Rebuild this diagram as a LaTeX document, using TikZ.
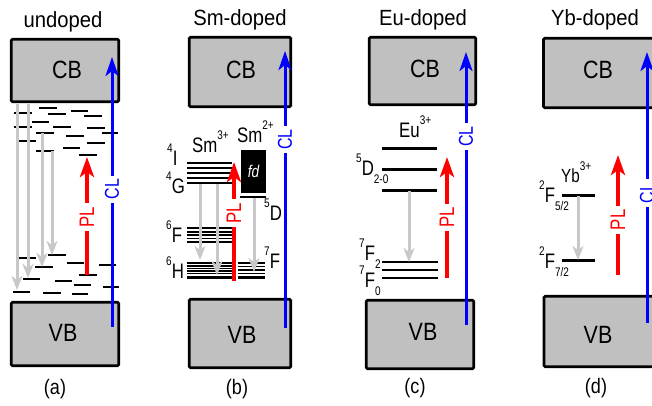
\documentclass[tikz,border=0pt]{standalone}
\usepackage{fontspec}
\setmainfont[FakeStretch=0.92]{Liberation Sans}
\newfontfamily\narrowf[FakeStretch=0.8]{Liberation Sans}
\newfontfamily\midf[FakeStretch=0.86]{Liberation Sans}
\usetikzlibrary{arrows.meta}
\definecolor{bandgray}{RGB}{192,192,192}
\definecolor{arrgray}{RGB}{200,200,200}
\newcommand\sps[1]{\raisebox{0.58em}{\fontsize{12.5}{12.5}\selectfont #1}}
\newcommand\sbs[1]{\raisebox{-0.42em}{\fontsize{12.5}{12.5}\selectfont #1}}
\newcommand\fs[1]{\fontsize{#1}{#1}\selectfont}
\begin{document}
\begin{tikzpicture}[x=1pt,y=-1pt,
  band/.style={draw=black,line width=2.6pt,fill=bandgray,rounded corners=1.2pt,inner sep=0pt},
  bandtxt/.style={font=\midf\fs{25},inner sep=0pt},
  lvl/.style={line width=2.7pt},
  tlvl/.style={line width=1.7pt},
  grarrow/.style={draw=arrgray,line width=3pt,-{Stealth[length=14pt,width=11pt,inset=4pt]}},
  plarrow/.style={draw=red,line width=3.8pt,-{Stealth[length=20pt,width=14pt,inset=5pt]}},
  clarrow/.style={draw=blue,line width=3pt,-{Stealth[length=19pt,width=13pt,inset=5pt]}},
  pllab/.style={fill=white,text=red,rotate=90,inner xsep=3.5pt,inner ysep=1pt,font=\narrowf\fs{21}},
  cllab/.style={fill=white,text=blue,rotate=90,inner xsep=3.5pt,inner ysep=1pt,font=\narrowf\fs{20}},
  ttl/.style={font=\fs{22},inner sep=0pt},
  sub/.style={font=\midf\fs{21},inner sep=0pt},
  lab/.style={font=\narrowf\fs{21},inner sep=0pt,anchor=base west}]
\useasboundingbox (0,0) rectangle (652,405);
\clip (0,0) rectangle (652,405);

% ================= (a) undoped =================
\node[ttl] (a-t) at (63,22) {undoped};
\node[band,minimum width=107.5,minimum height=62.5] (a-cb) at (65,70.5) {};
\node[band,minimum width=107.5,minimum height=63.5] (a-vb) at (65,334) {};
\node[bandtxt] (a-cbt) at (67,70) {CB};
\node[bandtxt] (a-vbt) at (63,333) {VB};
\node[sub] (a-s) at (55,389) {(a)};
\foreach \xa/\xb/\yy in {39/57/108,14/32/113,48/66/114,71/88/111,84/102/116,32/49/122,14/32/127,53/71/127,87/105/128,36/54/133,102/118/133,66/84/136,18/36/141,87/105/143,63/80/148,36/54/151,79/97/155,
  48/66/255,19/36/258,67/84/263,99/116/265,35/53/267,79/97/275,23/40/279,55/72/281,74/91/285,103/119/287,13/30/292,43/61/293,72/88/294}
  \draw[lvl] (\xa,\yy) -- (\xb,\yy);
\coordinate (a-g1a) at (17,104); \coordinate (a-g1b) at (17,290);
\coordinate (a-g2a) at (28,104); \coordinate (a-g2b) at (28,278);
\coordinate (a-g3a) at (42,133); \coordinate (a-g3b) at (42,267);
\coordinate (a-g4a) at (52,151); \coordinate (a-g4b) at (52,255);
\draw[grarrow] (a-g1a) -- (a-g1b);
\draw[grarrow] (a-g2a) -- (a-g2b);
\draw[grarrow] (a-g3a) -- (a-g3b);
\draw[grarrow] (a-g4a) -- (a-g4b);
\coordinate (a-p0) at (87,275); \coordinate (a-p1) at (87,157);
\draw[plarrow] (a-p0) -- node[pllab,pos=0.49] (a-pl) {PL} (a-p1);
\coordinate (a-c0) at (112,327); \coordinate (a-c1) at (112,57);
\draw[clarrow] (a-c0) -- node[cllab,pos=0.51] (a-cl) {CL} (a-c1);

% ================= (b) Sm-doped =================
\node[ttl] (b-t) at (240,20) {Sm-doped};
\node[band,minimum width=101.5,minimum height=69.5] (b-cb) at (240,72) {};
\node[band,minimum width=101.5,minimum height=68.5] (b-vb) at (240,333.5) {};
\node[bandtxt] (b-cbt) at (241,70) {CB};
\node[bandtxt] (b-vbt) at (242,335) {VB};
\node[sub] (b-s) at (237,389) {(b)};
\foreach \yy in {168,173,178} \draw[tlvl] (187,\yy) -- (232,\yy);
\foreach \yy in {163,183} \draw[lvl] (187,\yy) -- (232,\yy);
\foreach \yy in {228,232,235,238.5,242} \draw[tlvl] (187,\yy) -- (232,\yy);
\foreach \yy in {263,266,268.5,271,273.5} \draw[tlvl] (187,\yy) -- (232,\yy);
\draw[lvl] (187,277.5) -- (232,277.5);
\foreach \yy in {263,266.5,270,273.5} \draw[tlvl] (238,\yy) -- (265,\yy);
\draw[lvl] (238,277.5) -- (265,277.5);
\node[fill=black,minimum width=25,minimum height=43,inner sep=0pt,text=white,font=\narrowf\fs{17}\itshape] (b-fd) at (253.5,171.5) {fd};
\draw[lvl] (240,197) -- (266,197);
\node[lab] (b-sm3) at (192,152) {Sm\sps{3+}};
\node[lab] (b-sm2) at (237,142) {Sm\sps{2+}};
\node[lab] (b-4i) at (167,165) {\sps{4}I};
\node[lab] (b-4g) at (166,193) {\sps{4}G};
\node[lab] (b-6f) at (166,242) {\sps{6}F};
\node[lab] (b-6h) at (166,278) {\sps{6}H};
\node[lab] (b-5d) at (264,220) {\sps{5}D};
\node[lab] (b-7f) at (264,268) {\sps{7}F};
\coordinate (b-g1a) at (200,184); \coordinate (b-g1b) at (200,260);
\coordinate (b-g2a) at (217,184); \coordinate (b-g2b) at (217,275);
\coordinate (b-g3a) at (254,198); \coordinate (b-g3b) at (254,272);
\draw[grarrow] (b-g1a) -- (b-g1b);
\draw[grarrow] (b-g2a) -- (b-g2b);
\draw[grarrow] (b-g3a) -- (b-g3b);
\coordinate (b-p0) at (234,281); \coordinate (b-p1) at (234,162);
\draw[plarrow] (b-p0) -- node[pllab,pos=0.57] (b-pl) {PL} (b-p1);
\coordinate (b-c0) at (285,328); \coordinate (b-c1) at (285,51);
\draw[clarrow] (b-c0) -- node[cllab,pos=0.68] (b-cl) {CL} (b-c1);

% ================= (c) Eu-doped =================
\node[ttl] (c-t) at (423,20) {Eu-doped};
\node[band,minimum width=106.5,minimum height=67.5] (c-cb) at (422.5,71) {};
\node[band,minimum width=107.5,minimum height=68.5] (c-vb) at (420,334.5) {};
\node[bandtxt] (c-cbt) at (425,69) {CB};
\node[bandtxt] (c-vbt) at (423,332) {VB};
\node[sub] (c-s) at (415,388) {(c)};
\foreach \yy in {148,169,190} \draw[line width=3pt] (382,\yy) -- (437,\yy);
\foreach \yy in {262,270,278} \draw[line width=2.7pt] (382,\yy) -- (438,\yy);
\node[lab] (c-eu) at (399,137) {Eu\sps{3+}};
\node[lab] (c-5d) at (356,175) {\sps{5}D\sbs{2-0}};
\node[lab] (c-7f2) at (359,260) {\sps{7}F\sbs{2}};
\node[lab] (c-7f0) at (359,287) {\sps{7}F\sbs{0}};
\coordinate (c-ga) at (409,191); \coordinate (c-gb) at (409,262);
\draw[grarrow] (c-ga) -- (c-gb);
\coordinate (c-p0) at (447,278); \coordinate (c-p1) at (447,157);
\draw[plarrow] (c-p0) -- node[pllab,pos=0.5] (c-pl) {PL} (c-p1);
\coordinate (c-c0) at (466,325); \coordinate (c-c1) at (466,52);
\draw[clarrow] (c-c0) -- node[cllab,pos=0.69] (c-cl) {CL} (c-c1);

% ================= (d) Yb-doped =================
\node[ttl] (d-t) at (595,20) {Yb-doped};
\node[band,minimum width=110,minimum height=69.5] (d-cb) at (598.5,73) {};
\node[band,minimum width=110,minimum height=70.5] (d-vb) at (599,331.5) {};
\node[bandtxt] (d-cbt) at (598,70) {CB};
\node[bandtxt] (d-vbt) at (598,335) {VB};
\node[sub] (d-s) at (596,388) {(d)};
\foreach \yy in {195,260} \draw[line width=3pt] (562,\yy) -- (595,\yy);
\node[lab,font=\narrowf\fs{19}] (d-yb) at (561,182) {Yb\sps{3+}};
\node[lab] (d-2f5) at (539,202) {\sps{2}F\sbs{5/2}};
\node[lab] (d-2f7) at (539,268) {\sps{2}F\sbs{7/2}};
\coordinate (d-ga) at (578,196); \coordinate (d-gb) at (578,260);
\draw[grarrow] (d-ga) -- (d-gb);
\coordinate (d-p0) at (618,275); \coordinate (d-p1) at (618,155);
\draw[plarrow] (d-p0) -- node[pllab,pos=0.46] (d-pl) {PL} (d-p1);
\coordinate (d-c0) at (647,323); \coordinate (d-c1) at (647,52);
\draw[clarrow] (d-c0) -- node[cllab,pos=0.48] (d-cl) {CL} (d-c1);
\end{tikzpicture}
\end{document}
